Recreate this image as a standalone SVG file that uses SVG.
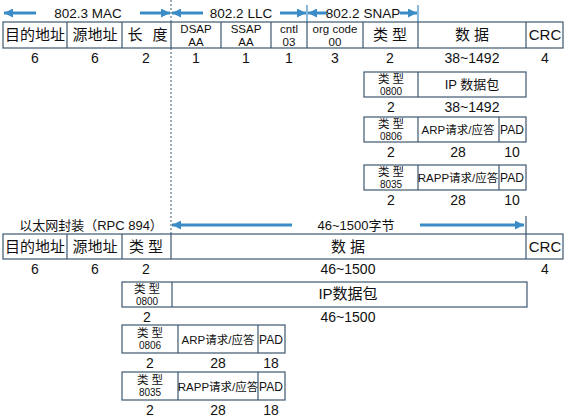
<svg xmlns="http://www.w3.org/2000/svg" width="570" height="420" viewBox="0 0 570 420">
<style>
.c{fill:#fff;stroke:#3d5870;stroke-width:1.2}
.d{stroke:#3d5870;stroke-width:1.2}
.t{font-family:"Liberation Sans","Noto Sans CJK SC",sans-serif;fill:#111;text-anchor:middle}
.h{font-size:13.5px}
.m{font-size:15px}
.n{font-size:14px}
.s{font-size:12px}
.w{font-size:13px}
.x{font-size:11.5px}
.y{font-size:10px}
.a{stroke:#3b8cc6;stroke-width:3;fill:none}
.k{stroke:#3b8cc6;stroke-width:1.2}
</style>
<defs>
<marker id="ah" viewBox="0 0 10 10" refX="10" refY="5" markerWidth="3.2" markerHeight="3" orient="auto" markerUnits="strokeWidth">
<path d="M0,0 L10,5 L0,10 z" fill="#3b8cc6"/>
</marker>
</defs>
<rect width="570" height="420" fill="#fff"/>
<g id="connectors">
<line x1="171" y1="0" x2="171" y2="234" stroke="#3d5870" stroke-width="1" stroke-dasharray="2,2"/>
<line class="a" x1="36" y1="13" x2="4" y2="13" marker-end="url(#ah)"/>
<line class="a" x1="140" y1="13" x2="170" y2="13" marker-end="url(#ah)"/>
<line class="a" x1="203" y1="13" x2="172" y2="13" marker-end="url(#ah)"/>
<line class="a" x1="280" y1="13" x2="306" y2="13" marker-end="url(#ah)"/>
<line class="a" x1="327" y1="13" x2="308" y2="13" marker-end="url(#ah)"/>
<line class="a" x1="400" y1="13" x2="417" y2="13" marker-end="url(#ah)"/>
<line class="k" x1="307" y1="5" x2="307" y2="22"/>
<line class="k" x1="418" y1="5" x2="418" y2="22"/>
<line class="a" x1="292" y1="225" x2="172" y2="225" marker-end="url(#ah)"/>
<line class="a" x1="420" y1="225" x2="524" y2="225" marker-end="url(#ah)"/>
<line class="d" x1="526" y1="216" x2="526" y2="234"/>
</g>
<g id="labels">
<text class="t h" x="88" y="18">802.3 MAC</text>
<text class="t h" x="241" y="18">802.2 LLC</text>
<text class="t h" x="363" y="18">802.2 SNAP</text>
<text class="t w" x="91" y="230">以太网封装（RPC 894）</text>
<text class="t w" x="356" y="230">46~1500字节</text>
</g>
<g id="frame-snap">
<rect class="c" x="3" y="22" width="560" height="26"/>
<line class="d" x1="67" y1="22" x2="67" y2="48"/>
<line class="d" x1="122" y1="22" x2="122" y2="48"/>
<line class="d" x1="171" y1="22" x2="171" y2="48"/>
<line class="d" x1="221" y1="22" x2="221" y2="48"/>
<line class="d" x1="271" y1="22" x2="271" y2="48"/>
<line class="d" x1="307" y1="22" x2="307" y2="48"/>
<line class="d" x1="363" y1="22" x2="363" y2="48"/>
<line class="d" x1="418" y1="22" x2="418" y2="48"/>
<line class="d" x1="526" y1="22" x2="526" y2="48"/>
<text class="t m" x="35" y="40">目的地址</text>
<text class="t m" x="95" y="40">源地址</text>
<text class="t m" y="40"><tspan x="135">长</tspan><tspan x="160">度</tspan></text>
<text class="t x" x="196" y="33">DSAP</text>
<text class="t x" x="196" y="45.5">AA</text>
<text class="t x" x="246" y="33">SSAP</text>
<text class="t x" x="246" y="45.5">AA</text>
<text class="t x" x="289" y="33">cntl</text>
<text class="t x" x="289" y="45.5">03</text>
<text class="t x" x="335" y="33">org code</text>
<text class="t x" x="335" y="45.5">00</text>
<text class="t m" x="390" y="40">类 型</text>
<text class="t m" x="472" y="40">数 据</text>
<text class="t m" x="545" y="40">CRC</text>
<text class="t n" x="35" y="63">6</text>
<text class="t n" x="95" y="63">6</text>
<text class="t n" x="146" y="63">2</text>
<text class="t n" x="196" y="63">1</text>
<text class="t n" x="246" y="63">1</text>
<text class="t n" x="289" y="63">1</text>
<text class="t n" x="335" y="63">3</text>
<text class="t n" x="390" y="63">2</text>
<text class="t n" x="472" y="63">38~1492</text>
<text class="t n" x="545" y="63">4</text>
</g>
<g id="snap-ip">
<rect class="c" x="364" y="72" width="162" height="25"/>
<line class="d" x1="418" y1="72" x2="418" y2="97"/>
<text class="t x" x="391" y="83">类 型</text>
<text class="t y" x="391" y="95">0800</text>
<text class="t w" x="472" y="89">IP 数据包</text>
<text class="t n" x="391" y="112">2</text>
<text class="t n" x="472" y="112">38~1492</text>
</g>
<g id="snap-arp">
<rect class="c" x="364" y="117" width="162" height="25"/>
<line class="d" x1="418" y1="117" x2="418" y2="142"/>
<line class="d" x1="499" y1="117" x2="499" y2="142"/>
<text class="t x" x="391" y="128">类 型</text>
<text class="t y" x="391" y="140">0806</text>
<text class="t x" x="458" y="134">ARP请求/应答</text>
<text class="t s" x="512" y="134">PAD</text>
<text class="t n" x="391" y="157">2</text>
<text class="t n" x="458" y="157">28</text>
<text class="t n" x="512" y="157">10</text>
</g>
<g id="snap-rapp">
<rect class="c" x="364" y="165" width="162" height="25"/>
<line class="d" x1="418" y1="165" x2="418" y2="190"/>
<line class="d" x1="499" y1="165" x2="499" y2="190"/>
<text class="t x" x="391" y="176">类 型</text>
<text class="t y" x="391" y="188">8035</text>
<text class="t x" x="458" y="182">RAPP请求/应答</text>
<text class="t s" x="512" y="182">PAD</text>
<text class="t n" x="391" y="205">2</text>
<text class="t n" x="458" y="205">28</text>
<text class="t n" x="512" y="205">10</text>
</g>
<g id="frame-ethernet">
<rect class="c" x="3" y="234" width="560" height="25"/>
<line class="d" x1="67" y1="234" x2="67" y2="259"/>
<line class="d" x1="122" y1="234" x2="122" y2="259"/>
<line class="d" x1="171" y1="234" x2="171" y2="259"/>
<line class="d" x1="526" y1="234" x2="526" y2="259"/>
<text class="t m" x="35" y="252">目的地址</text>
<text class="t m" x="95" y="252">源地址</text>
<text class="t m" x="146" y="252">类 型</text>
<text class="t m" x="348" y="252">数 据</text>
<text class="t m" x="545" y="252">CRC</text>
<text class="t n" x="35" y="274">6</text>
<text class="t n" x="95" y="274">6</text>
<text class="t n" x="146" y="274">2</text>
<text class="t n" x="348" y="274">46~1500</text>
<text class="t n" x="545" y="274">4</text>
</g>
<g id="eth-ip">
<rect class="c" x="122" y="282" width="405" height="25"/>
<line class="d" x1="172" y1="282" x2="172" y2="307"/>
<text class="t x" x="147" y="293">类 型</text>
<text class="t y" x="147" y="305">0800</text>
<text class="t m" x="348" y="299">IP数据包</text>
<text class="t n" x="147" y="322">2</text>
<text class="t n" x="348" y="322">46~1500</text>
</g>
<g id="eth-arp">
<rect class="c" x="122" y="325" width="163" height="28"/>
<line class="d" x1="178" y1="325" x2="178" y2="353"/>
<line class="d" x1="258" y1="325" x2="258" y2="353"/>
<text class="t x" x="150" y="337">类 型</text>
<text class="t y" x="150" y="349">0806</text>
<text class="t x" x="218" y="344">ARP请求/应答</text>
<text class="t s" x="271" y="344">PAD</text>
<text class="t n" x="150" y="368">2</text>
<text class="t n" x="218" y="368">28</text>
<text class="t n" x="271" y="368">18</text>
</g>
<g id="eth-rapp">
<rect class="c" x="122" y="372" width="163" height="28"/>
<line class="d" x1="178" y1="372" x2="178" y2="400"/>
<line class="d" x1="258" y1="372" x2="258" y2="400"/>
<text class="t x" x="150" y="384">类 型</text>
<text class="t y" x="150" y="396">8035</text>
<text class="t x" x="218" y="391">RAPP请求/应答</text>
<text class="t s" x="271" y="391">PAD</text>
<text class="t n" x="150" y="415">2</text>
<text class="t n" x="218" y="415">28</text>
<text class="t n" x="271" y="415">18</text>
</g>
</svg>
